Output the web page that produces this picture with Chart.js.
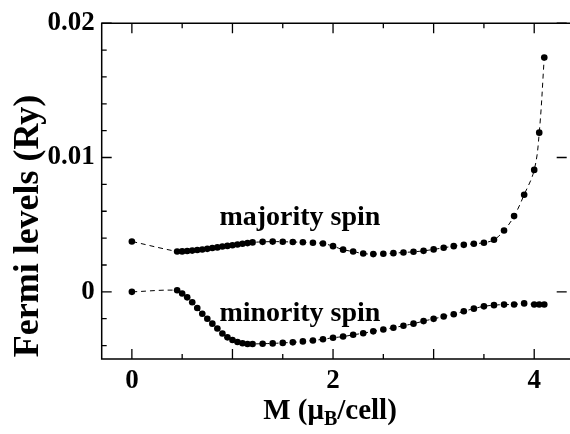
<!DOCTYPE html>
<html><head><meta charset="utf-8">
<script src="https://cdn.jsdelivr.net/npm/chart.js@4.4.0/dist/chart.umd.min.js"></script>
<style>html,body{margin:0;padding:0;background:#fff;overflow:hidden}#wrap{width:570px;height:434px;position:relative}</style>
</head><body><div id="wrap"><canvas id="c" width="570" height="434"></canvas></div>
<script>
// ---- data (M in muB/cell, Fermi level in Ry) ----
const majorityM = [0, 0.45,0.50,0.55,0.60,0.65,0.70,0.75,0.80,0.85,0.90,0.95,1.00,1.05,1.10,1.15,1.20,
  1.3,1.4,1.5,1.6,1.7,1.8,1.9,2.0,2.1,2.2,2.3,2.4,2.5,2.6,2.7,2.8,2.9,3.0,3.1,3.2,3.3,3.4,3.5,3.6,3.7,3.8,3.9,4.0,4.05,4.1];
const majorityE = [0.00375, 0.00300,0.00301,0.00304,0.00307,0.00311,0.00315,0.00320,0.00326,0.00331,0.00337,0.00342,0.00347,0.00353,0.00358,0.00363,0.00368,
  0.00372,0.00374,0.00373,0.00371,0.00369,0.00365,0.00360,0.00340,0.00314,0.00300,0.00285,0.00281,0.00284,0.00288,0.00293,0.00298,0.00305,0.00316,0.00328,0.00340,0.00350,0.00358,0.00366,0.00388,0.00457,0.00564,0.00723,0.00908,0.01185,0.01745];
const minorityM = [0, 0.45,0.50,0.55,0.60,0.65,0.70,0.75,0.80,0.85,0.90,0.95,1.00,1.05,1.10,1.15,1.20,
  1.3,1.4,1.5,1.6,1.7,1.8,1.9,2.0,2.1,2.2,2.3,2.4,2.5,2.6,2.7,2.8,2.9,3.0,3.1,3.2,3.3,3.4,3.5,3.6,3.7,3.8,3.9,4.0,4.05,4.1];
const minorityE = [0.0, 0.00012,-0.00012,-0.00041,-0.00078,-0.00120,-0.00163,-0.00200,-0.00237,-0.00273,-0.00310,-0.00339,-0.00359,-0.00373,-0.00383,-0.00388,-0.00388,
  -0.00386,-0.00384,-0.00380,-0.00376,-0.00369,-0.00362,-0.00353,-0.00342,-0.00333,-0.00320,-0.00308,-0.00294,-0.00280,-0.00267,-0.00252,-0.00237,-0.00218,-0.00201,-0.00184,-0.00167,-0.00145,-0.00125,-0.00108,-0.00099,-0.00095,-0.00094,-0.00086,-0.00094,-0.00094,-0.00094];

// ---- axes / ticks ----
const xMajorTicks = [0, 1, 2, 3, 4];
const xMinorTicks = [0.5, 1.5, 2.5, 3.5];
const xTickLabels = {0: '0', 2: '2', 4: '4'};
const yMajorTicks = [0, 0.01, 0.02];
const yMinorTicks = [-0.004, -0.002, 0.002, 0.004, 0.006, 0.008, 0.012, 0.014, 0.016, 0.018];
const yTickLabels = {0: '0', 0.01: '0.01', 0.02: '0.02'};
const seriesNames = ['majority spin', 'minority spin'];
const seriesNamePos = [[0.87, 0.0050], [0.87, -0.00214]];
const yTitle = 'Fermi levels (Ry)';
const xTitleParts = ['M (\u03bc', 'B', '/cell)'];

const SERIF = "'Liberation Serif', 'Times New Roman', serif";

function pts(xs, ys) { return xs.map((x, i) => ({x: x, y: ys[i]})); }

const frameTicks = {
  id: 'frameTicks',
  afterDatasetsDraw(chart) {
    const {ctx, chartArea: a, scales: {x, y}} = chart;
    ctx.save();
    ctx.strokeStyle = '#000';
    ctx.lineWidth = 1.5;
    ctx.beginPath();
    ctx.moveTo(chart.width + 2, a.top); ctx.lineTo(a.left, a.top);
    ctx.lineTo(a.left, a.bottom); ctx.lineTo(chart.width + 2, a.bottom);
    ctx.stroke();
    ctx.lineWidth = 1.3;
    ctx.beginPath();
    const xt = (v, len) => { const p = x.getPixelForValue(v);
      ctx.moveTo(p, a.bottom); ctx.lineTo(p, a.bottom - len);
      ctx.moveTo(p, a.top); ctx.lineTo(p, a.top + len); };
    xMajorTicks.forEach(v => xt(v, 10));
    xMinorTicks.forEach(v => xt(v, 5));
    const yt = (v, len, right) => { const p = y.getPixelForValue(v);
      ctx.moveTo(a.left, p); ctx.lineTo(a.left + len, p);
      if (right) { ctx.moveTo(a.right, p); ctx.lineTo(a.right - len, p); } };
    yMajorTicks.forEach(v => yt(v, 10, true));
    yMinorTicks.forEach(v => yt(v, 5, false));
    ctx.stroke();
    ctx.fillStyle = '#000';
    // series annotations
    ctx.font = 'bold 28px ' + SERIF;
    ctx.textAlign = 'left'; ctx.textBaseline = 'alphabetic';
    seriesNames.forEach((s, i) => {
      ctx.fillText(s, x.getPixelForValue(seriesNamePos[i][0]), y.getPixelForValue(seriesNamePos[i][1]));
    });
    // x-axis title with subscript
    const big = 'bold 29px ' + SERIF, small = 'bold 20px ' + SERIF;
    ctx.font = big; const w0 = ctx.measureText(xTitleParts[0]).width, w2 = ctx.measureText(xTitleParts[2]).width;
    ctx.font = small; const w1 = ctx.measureText(xTitleParts[1]).width;
    const total = w0 + w1 + w2;
    let cx = 330 - total / 2; const by = 419;
    ctx.font = big; ctx.fillText(xTitleParts[0], cx, by); cx += w0;
    ctx.font = small; ctx.fillText(xTitleParts[1], cx, by + 6); cx += w1;
    ctx.font = big; ctx.fillText(xTitleParts[2], cx, by);
    // y-axis title
    ctx.translate(29, 226);
    ctx.rotate(-Math.PI / 2);
    ctx.font = 'bold 36px ' + SERIF;
    ctx.textAlign = 'center'; ctx.textBaseline = 'middle';
    ctx.fillText(yTitle, 0, 0);
    ctx.restore();
  }
};

new Chart(document.getElementById('c'), {
  type: 'scatter',
  data: {
    datasets: [
      {label: seriesNames[0], data: pts(majorityM, majorityE)},
      {label: seriesNames[1], data: pts(minorityM, minorityE)}
    ].map(d => Object.assign(d, {
      showLine: true, borderColor: '#000', borderWidth: 1, borderDash: [5, 4], tension: 0.4,
      backgroundColor: '#000', pointBackgroundColor: '#000', pointBorderColor: '#000',
      pointBorderWidth: 0, pointRadius: 3.3, pointHoverRadius: 3.3
    }))
  },
  options: {
    responsive: false, animation: false, devicePixelRatio: 1,
    layout: {padding: {top: 19, right: 0, bottom: 0, left: 0}},
    plugins: {legend: {display: false}, tooltip: {enabled: false}},
    scales: {
      x: {
        type: 'linear', min: -0.3, max: 4.323,
        afterBuildTicks: s => { s.ticks = xMajorTicks.map(v => ({value: v})); },
        afterFit: s => { s.height = 75; },
        grid: {display: false, drawTicks: false}, border: {display: false},
        ticks: {color: '#000', font: {family: SERIF, size: 27, weight: 'bold'}, padding: 6,
          maxRotation: 0, autoSkip: false, callback: v => (v in xTickLabels ? xTickLabels[v] : '')}
      },
      y: {
        type: 'linear', min: -0.005, max: 0.02,
        afterBuildTicks: s => { s.ticks = yMajorTicks.map(v => ({value: v})); },
        afterFit: s => { s.width = 101.7; },
        grid: {display: false, drawTicks: false}, border: {display: false},
        title: {display: false, text: yTitle},
        ticks: {color: '#000', font: {family: SERIF, size: 27, weight: 'bold'}, padding: 7,
          callback: v => (v in yTickLabels ? yTickLabels[v] : '')}
      }
    }
  },
  plugins: [frameTicks]
});
</script></body></html>
